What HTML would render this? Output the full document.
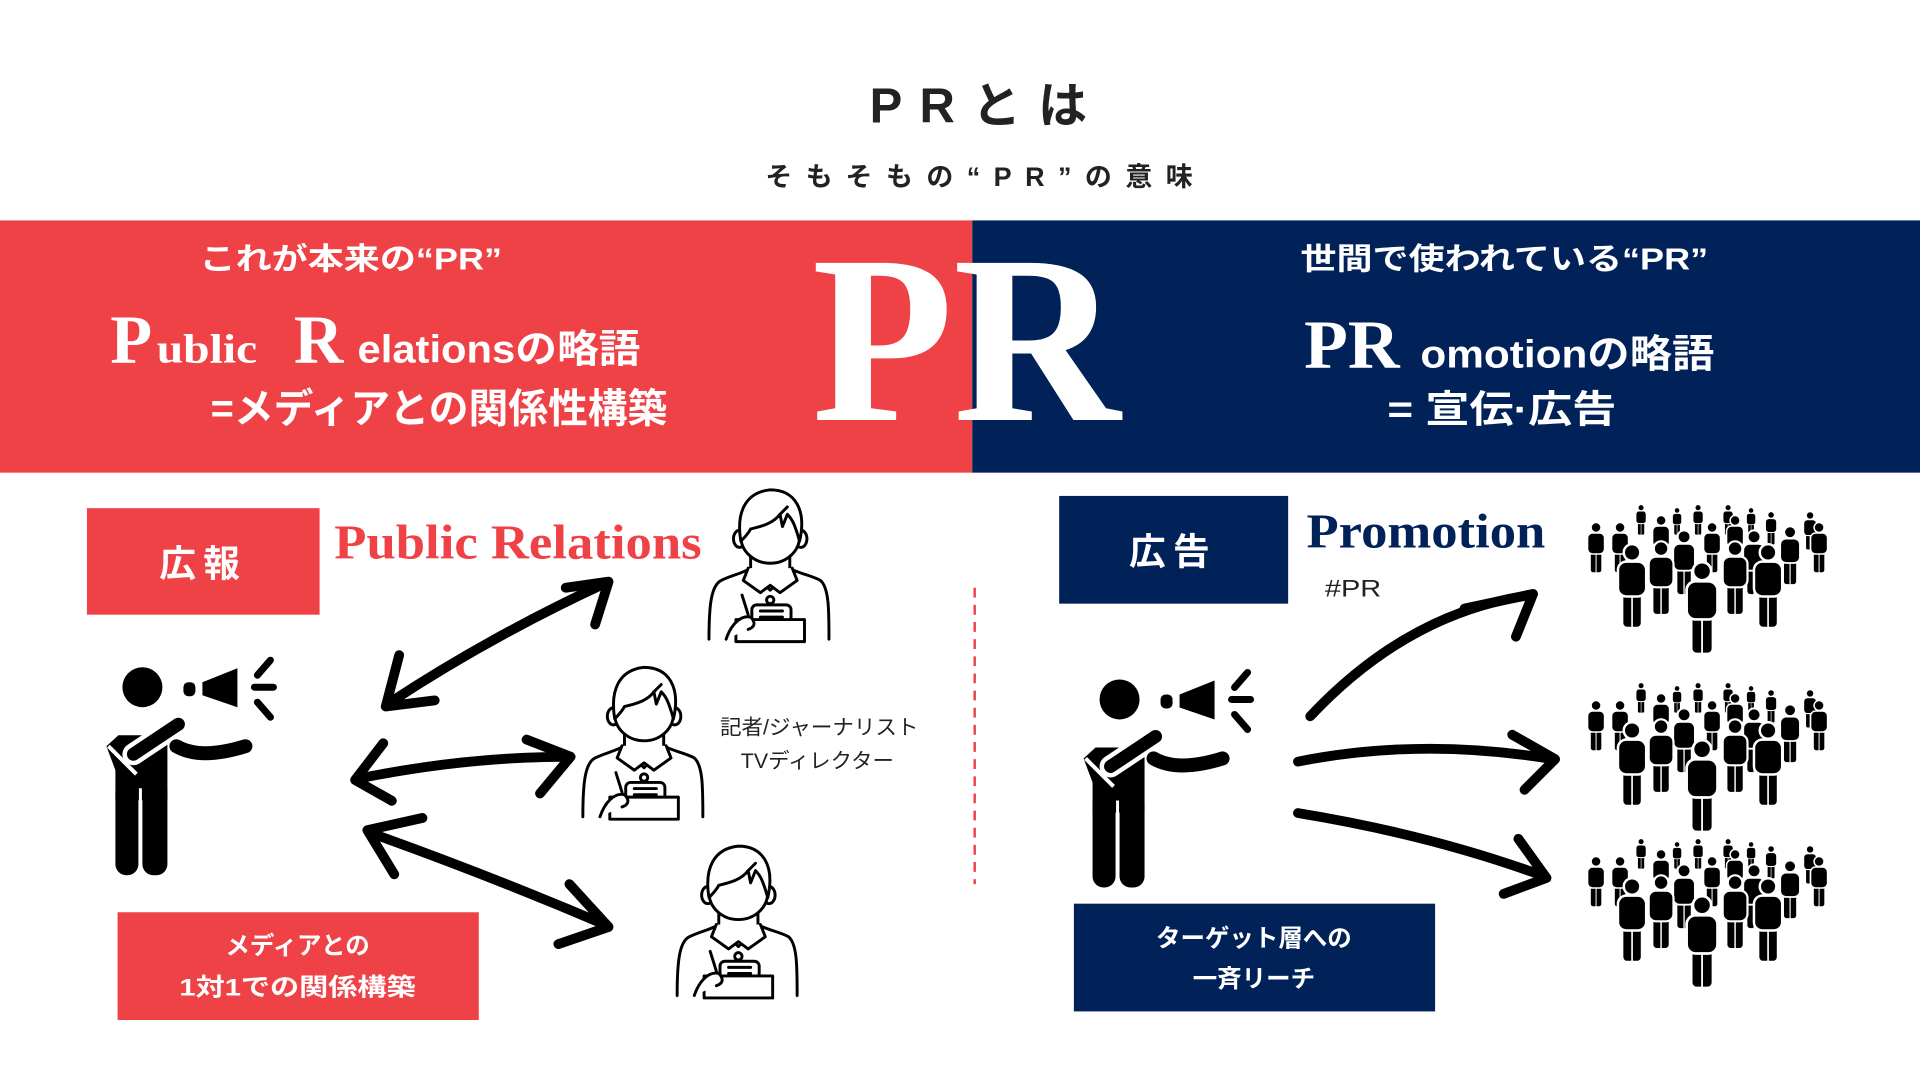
<!DOCTYPE html>
<html><head><meta charset="utf-8"><style>
html,body{margin:0;padding:0;background:#fff;overflow:hidden}
svg{display:block}
.jp{font-family:"Liberation Sans","Noto Sans CJK JP",sans-serif;font-weight:700}
.sf{font-family:"Liberation Serif","Noto Serif CJK SC",serif}
</style></head><body>
<svg width="1920" height="1080" viewBox="0 0 1568 882" preserveAspectRatio="none" xmlns="http://www.w3.org/2000/svg">
<defs>
  <g id="spk">
    <circle cx="42" cy="37" r="20" fill="#000"/>
    <rect x="83" y="32" width="12" height="14" rx="5" fill="#000"/>
    <polygon points="102,32 137,18 137,57 102,45" fill="#000"/>
    <g stroke="#000" stroke-width="7" stroke-linecap="round">
      <line x1="157" y1="25" x2="170" y2="10"/>
      <line x1="154" y1="37" x2="173" y2="37"/>
      <line x1="157" y1="52" x2="170" y2="67"/>
    </g>
    <polygon points="6,96 18,85 67,85 67,150 15,150 15,120" fill="#000"/>
    <rect x="15" y="130" width="23" height="95" rx="11" fill="#000"/>
    <rect x="42" y="130" width="25" height="95" rx="11" fill="#000"/>
    <line x1="40" y1="138" x2="40" y2="222" stroke="#fff" stroke-width="3"/>
    <line x1="33" y1="104" x2="78" y2="74" stroke="#fff" stroke-width="22" stroke-linecap="round"/>
    <path d="M8 96 L36 124" stroke="#fff" stroke-width="4"/>
    <line x1="33" y1="104" x2="78" y2="74" stroke="#000" stroke-width="13" stroke-linecap="round"/>
    <path d="M76 96 Q100 110 145 96" stroke="#000" stroke-width="14" fill="none" stroke-linecap="round"/>
  </g>
  <g id="rep" fill="#fff" stroke="#000" stroke-width="2.4" stroke-linejoin="round" stroke-linecap="round">
    <path d="M2 124 C2 95 4 80 12 76 C20 72 30 70 36 66 L68 66 C74 70 86 72 93 76 C100 82 100 100 100 124"/>
    <path d="M36 56 L36 68 L52 84 L68 68 L68 56"/>
    <path d="M34 66 L30 76 L44 86 L52 80 L60 86 L74 76 L70 66"/>
    <circle cx="52" cy="92" r="3"/>
    <ellipse cx="27" cy="42" rx="5" ry="7"/>
    <ellipse cx="77" cy="42" rx="5" ry="7"/>
    <ellipse cx="52" cy="40" rx="24" ry="22"/>
    <path d="M28 44 C24 20 32 4 52 2 C72 2 82 18 76 44 C72 30 70 26 66 22 L62 32 L60 22 C54 30 44 32 36 34 C34 38 30 42 28 44 Z"/>
    <path d="M60 22 L66 16"/>
    <rect x="37" y="96" width="32" height="14" rx="4"/>
    <line x1="44" y1="101" x2="62" y2="101"/><line x1="44" y1="106" x2="62" y2="106"/>
    <path d="M29 88 L34 104"/>
    <rect x="24" y="108" width="56" height="18"/>
    <path d="M16 124 C20 112 28 104 36 106 C40 110 40 114 34 116"/>
  </g>
  <g id="pp" fill="#000" stroke="#fff" stroke-width="3">
    <rect x="-12" y="50" width="24" height="50" rx="6"/>
    <rect x="-17" y="20" width="34" height="42" rx="10"/>
    <circle cx="0" cy="9" r="10"/>
    <line x1="0" y1="62" x2="0" y2="100" stroke-width="2"/>
  </g>
  <g id="crowd">
    <use href="#pp" transform="translate(61,10) scale(0.3)"/>
    <use href="#pp" transform="translate(97,13) scale(0.27)"/>
    <use href="#pp" transform="translate(118,10) scale(0.3)"/>
    <use href="#pp" transform="translate(148,10) scale(0.3)"/>
    <use href="#pp" transform="translate(171,13) scale(0.27)"/>
    <use href="#pp" transform="translate(191,17) scale(0.33)"/>
    <use href="#pp" transform="translate(230,17) scale(0.38)"/>
    <use href="#pp" transform="translate(16,28) scale(0.5)"/>
    <use href="#pp" transform="translate(40,28) scale(0.5)"/>
    <use href="#pp" transform="translate(81,21) scale(0.5)"/>
    <use href="#pp" transform="translate(132,28) scale(0.5)"/>
    <use href="#pp" transform="translate(155,21) scale(0.5)"/>
    <use href="#pp" transform="translate(210,32) scale(0.58)"/>
    <use href="#pp" transform="translate(239,28) scale(0.5)"/>
    <use href="#pp" transform="translate(104,36) scale(0.64)"/>
    <use href="#pp" transform="translate(174,36) scale(0.64)"/>
    <use href="#pp" transform="translate(81,47) scale(0.73)"/>
    <use href="#pp" transform="translate(155,47) scale(0.73)"/>
    <use href="#pp" transform="translate(52,50) scale(0.83)"/>
    <use href="#pp" transform="translate(188,50) scale(0.83)"/>
    <use href="#pp" transform="translate(122,68) scale(0.91)"/>
  </g>
</defs>

<text class="jp" x="806" y="100" font-size="40" text-anchor="middle" letter-spacing="14" fill="#222">PRとは</text>
<text class="jp" x="805" y="152" font-size="22" text-anchor="middle" letter-spacing="11" fill="#222">そもそもの“PR”の意味</text>

<rect x="0" y="180" width="794" height="206" fill="#EE4247"/>
<rect x="794" y="180" width="774" height="206" fill="#012159"/>

<text class="jp" x="163" y="220" font-size="25" fill="#fff" textLength="247" lengthAdjust="spacingAndGlyphs">これが本来の“PR”</text>
<text class="sf" x="90" y="296" font-size="56" font-weight="700" fill="#fff">P</text>
<text class="sf" x="128" y="296" font-size="34" font-weight="700" fill="#fff" textLength="82" lengthAdjust="spacingAndGlyphs">ublic</text>
<text class="sf" x="240" y="296" font-size="56" font-weight="700" fill="#fff">R</text>
<text class="jp" x="292" y="296" font-size="32" fill="#fff" textLength="231" lengthAdjust="spacingAndGlyphs">elationsの略語</text>
<text class="jp" x="172" y="345" font-size="33" fill="#fff" textLength="373" lengthAdjust="spacingAndGlyphs">=メディアとの関係性構築</text>

<text class="sf" x="663" y="343" font-size="196" font-weight="700" fill="#fff" textLength="252" lengthAdjust="spacingAndGlyphs">PR</text>

<text class="jp" x="1062" y="220" font-size="25" fill="#fff" textLength="333" lengthAdjust="spacingAndGlyphs">世間で使われている“PR”</text>
<text class="sf" x="1065" y="300" font-size="56" font-weight="700" fill="#fff" textLength="78" lengthAdjust="spacingAndGlyphs">PR</text>
<text class="jp" x="1160" y="300" font-size="32" fill="#fff" textLength="240" lengthAdjust="spacingAndGlyphs">omotionの略語</text>
<text class="jp" x="1133" y="345" font-size="31" fill="#fff" textLength="187" lengthAdjust="spacingAndGlyphs">= 宣伝·広告</text>

<rect x="71" y="415" width="190" height="87" fill="#EE4247"/>
<text class="jp" x="166" y="471" font-size="30" fill="#fff" text-anchor="middle" letter-spacing="6">広報</text>
<text class="sf" x="273" y="456" font-size="40" font-weight="700" fill="#EE4247" textLength="300" lengthAdjust="spacingAndGlyphs">Public Relations</text>

<use href="#spk" transform="translate(82,531) scale(0.8167)"/>

<g stroke="#000" stroke-width="8" fill="none" stroke-linecap="round" stroke-linejoin="round">
  <path d="M318 574 Q400 520 495 476"/>
  <path d="M462 480 L497 475 L486 510"/>
  <path d="M326 535 L315 577 L355 572"/>
  <path d="M292 636 Q380 618 465 618"/>
  <path d="M430 604 L466 618 L441 648"/>
  <path d="M313 607 L290 637 L320 654"/>
  <path d="M302 680 Q400 715 496 756"/>
  <path d="M345 668 L300 678 L322 714"/>
  <path d="M465 722 L497 757 L456 771"/>
</g>

<use href="#rep" transform="translate(577,398)"/>
<use href="#rep" transform="translate(474,543)"/>
<use href="#rep" transform="translate(551,689)"/>

<text class="jp" x="588" y="600" font-size="17" fill="#222" textLength="162" lengthAdjust="spacingAndGlyphs" style="font-weight:400">記者/ジャーナリスト</text>
<text class="jp" x="605" y="627" font-size="17" fill="#222" textLength="125" lengthAdjust="spacingAndGlyphs" style="font-weight:400">TVディレクター</text>

<rect x="96" y="745" width="295" height="88" fill="#EE4247"/>
<text class="jp" x="243" y="779" font-size="20" fill="#fff" text-anchor="middle">メディアとの</text>
<text class="jp" x="243" y="813" font-size="20" fill="#fff" text-anchor="middle" textLength="193" lengthAdjust="spacingAndGlyphs">1対1での関係構築</text>

<line x1="796" y1="480" x2="796" y2="722" stroke="#E8434A" stroke-width="2" stroke-dasharray="8,6"/>

<rect x="865" y="405" width="187" height="88" fill="#012159"/>
<text class="jp" x="958" y="461" font-size="30" fill="#fff" text-anchor="middle" letter-spacing="6">広告</text>
<text class="sf" x="1067" y="447" font-size="40" font-weight="700" fill="#012159" textLength="195" lengthAdjust="spacingAndGlyphs">Promotion</text>
<text class="jp" x="1082" y="487" font-size="20" fill="#222" textLength="46" lengthAdjust="spacingAndGlyphs" style="font-weight:400">#PR</text>

<use href="#spk" transform="translate(880,541) scale(0.8167)"/>

<g stroke="#000" stroke-width="8" fill="none" stroke-linecap="round" stroke-linejoin="round">
  <path d="M1070 585 Q1150 500 1250 486"/>
  <path d="M1196 497 L1252 485 L1238 520"/>
  <path d="M1060 622 Q1160 602 1268 620"/>
  <path d="M1235 600 L1270 620 L1245 645"/>
  <path d="M1060 664 Q1170 682 1262 716"/>
  <path d="M1240 685 L1263 717 L1228 730"/>
</g>

<g transform="scale(0.8167)">
  <use href="#crowd" transform="translate(1580,495)"/>
  <use href="#crowd" transform="translate(1580,673)"/>
  <use href="#crowd" transform="translate(1580,829)"/>
</g>

<rect x="877" y="738" width="295" height="88" fill="#012159"/>
<text class="jp" x="1024" y="773" font-size="20" fill="#fff" text-anchor="middle">ターゲット層への</text>
<text class="jp" x="1024" y="806" font-size="20" fill="#fff" text-anchor="middle">一斉リーチ</text>
</svg>
</body></html>
